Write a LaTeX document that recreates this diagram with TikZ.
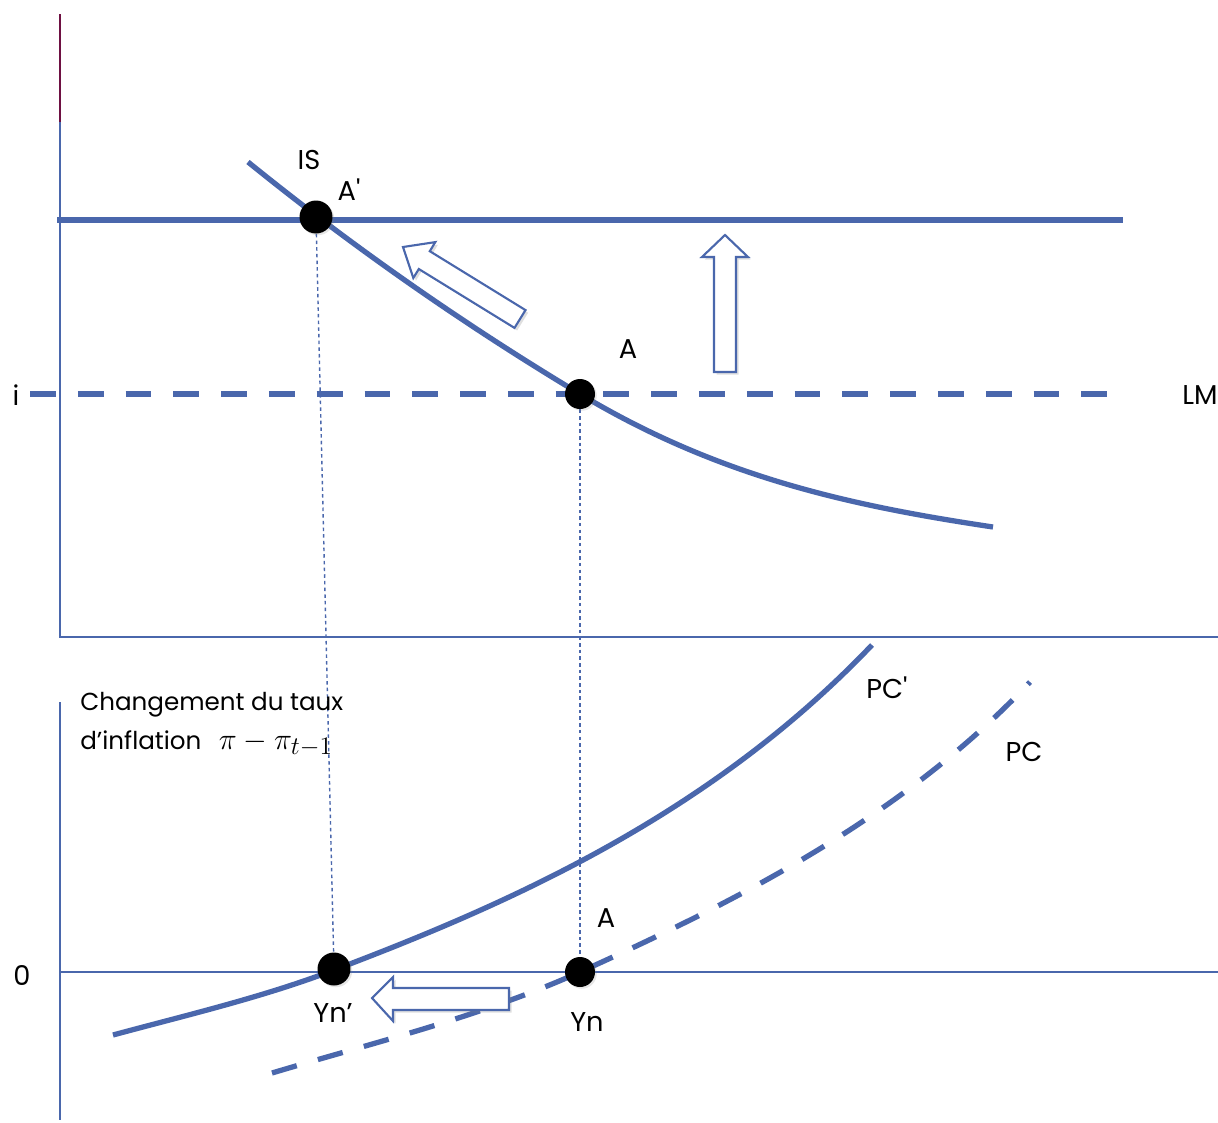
\documentclass[tikz,border=0pt]{standalone}
\usepackage{fontspec}
\setmainfont{Poppins}
\usetikzlibrary{shadows,backgrounds}
\definecolor{cblue}{RGB}{74,103,172}
\definecolor{cplum}{RGB}{110,16,66}
\begin{document}
\begin{tikzpicture}[x=0.02cm,y=-0.02cm,
  curve/.style={cblue,line width=3pt},
  dashcurve/.style={cblue,line width=3pt,dash pattern=on 14.7pt off 12.5pt},
  axis/.style={cblue,line width=1.5pt},
  guide/.style={cblue,line width=0.8pt,dash pattern=on 2pt off 1.8pt},
  bigdot/.style={circle,fill=black,inner sep=0pt,minimum size=0.66cm},
  smalldot/.style={circle,fill=black,inner sep=0pt,minimum size=0.6cm},
  lab/.style={font=\fontsize{15.5}{18}\selectfont,inner sep=0pt},
  txt/.style={font=\fontsize{14}{17}\selectfont,inner sep=0pt,anchor=base west},
  barrow/.style={draw=cblue,line width=1.2pt,fill=white,line join=miter,
    drop shadow={shadow xshift=1.5pt,shadow yshift=-1.5pt,opacity=0.25}},
  dshadow/.style={drop shadow={shadow xshift=1pt,shadow yshift=-1pt,opacity=0.2}}
]
\useasboundingbox (0,0) rectangle (1218,1123);
% axes
\draw[cplum,line width=1.5pt] (60,14) -- (60,122);
\draw[axis] (60,122) -- (60,637) -- (1218,637);
\draw[axis] (60,702) -- (60,1120);
\draw[axis] (60,972) -- (1218,972);
% LM lines
\draw[curve] (57,220) -- (1123,220);
\draw[dashcurve] (30,394) -- (1128,394);
% IS curve
\draw[curve] (248,162) .. controls (358,251) and (470,328) .. (580,394)
  .. controls (720,478) and (853,506) .. (993,527);
% PC' curve
\draw[curve] (113,1035) .. controls (183,1016) and (264,997) .. (334,970)
  .. controls (514,902) and (712,813) .. (872,645);
% PC dashed curve
\draw[dashcurve] (272,1073) .. controls (372,1043) and (480,1017) .. (580,972)
  .. controls (730,904) and (900,820) .. (1030,682);
% block arrows
\draw[barrow] (403,247) -- (435.3,242.1) -- (429.8,251.2) -- (525.5,310.1) -- (514.5,327.9) -- (418.8,269.0) -- (413.3,278.0) -- cycle;
\draw[barrow] (725,235) -- (748,257) -- (736,257) -- (736,372) -- (714,372) -- (714,257) -- (702,257) -- cycle;
\draw[barrow] (372,998) -- (393,977) -- (393,988) -- (509,988) -- (509,1010) -- (393,1010) -- (393,1021) -- cycle;
% dots
\node[bigdot,dshadow] (Ap) at (316,217) {};
\node[smalldot,dshadow] (A) at (580,394) {};
\node[bigdot,dshadow] (Ynp) at (334,969) {};
\node[smalldot,dshadow] (Yn) at (580,972) {};
% guides
\begin{scope}[on background layer]
\draw[guide] (Ap) -- (Ynp);
\draw[guide] (A) -- (Yn);
\end{scope}
% labels
\node[lab] (lIS) at (309,160) {IS};
\node[lab] (lAp) at (349,190) {A\textquotesingle};
\node[lab] (lA) at (628,349) {A};
\node[lab] (li) at (16,395) {i};
\node[lab] (lLM) at (1200,395) {LM};
\node[lab] (lPCp) at (887,688) {PC\textquotesingle};
\node[lab] (lPC) at (1024,752) {PC};
\node[lab] (lA2) at (606,918) {A};
\node[lab] (l0) at (22,975) {0};
\node[lab] (lYnp) at (333,1013) {Yn’};
\node[lab] (lYn) at (587,1022) {Yn};
\node[txt] (t1) at (80,710) {Changement du taux};
\node[txt] (t2) at (80,749) {d’inflation\hspace{10pt}{\fontsize{19}{21}\selectfont$\pi-\pi_{t-1}$}};
\end{tikzpicture}
\end{document}
